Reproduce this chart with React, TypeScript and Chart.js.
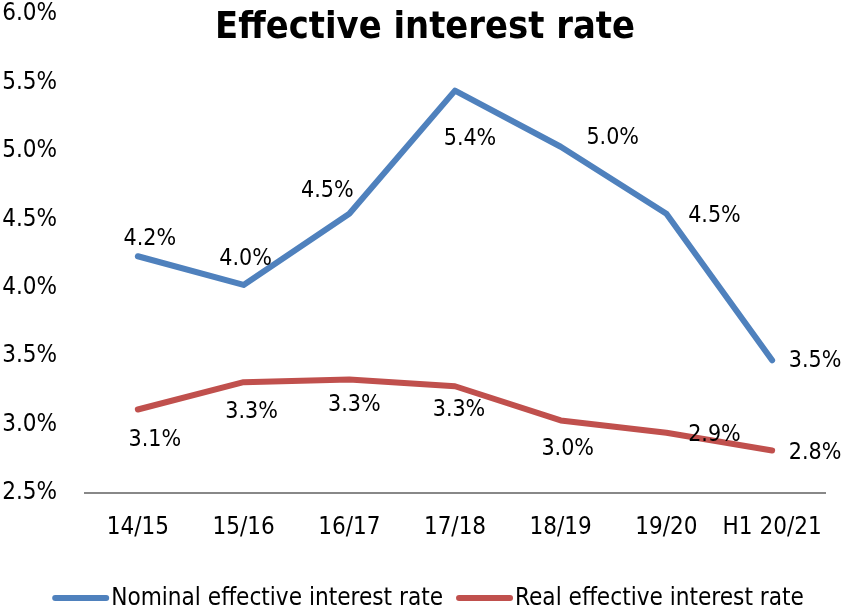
import React, { useEffect, useRef } from "react";
import { Chart, registerables } from "chart.js";

Chart.register(...registerables);

// ---- data ----
const categories = ["14/15", "15/16", "16/17", "17/18", "18/19", "19/20", "H1 20/21"];
const nominalRate = [4.23, 4.02, 4.54, 5.44, 5.03, 4.54, 3.47];
const realRate = [3.11, 3.31, 3.33, 3.28, 3.03, 2.94, 2.81];
const seriesNames = ["Nominal effective interest rate", "Real effective interest rate"];
const yMin = 2.5;
const yMax = 6.0;
const yStep = 0.5;
const titleText = "Effective interest rate";

// ---- style ----
const FONT = "'DejaVu Sans Condensed', 'Liberation Sans', sans-serif";
const COLORS = ["#4F81BD", "#C0504D"];
// data-label offsets (px) from each point, per series
const labelOffsets = [
  [[12, -17], [2, -26], [-22, -23], [15, 48], [52, -9], [48, 2], [43, 1]],
  [[17, 31], [8, 30], [5, 26], [4, 24], [7, 29], [48, 2], [43, 2]],
];

function fitFont(ctx: any, text: string, weight: string, targetWidth: number) {
  ctx.font = `${weight} 100px ${FONT}`;
  const w = ctx.measureText(text).width;
  const size = (100 * targetWidth) / w;
  ctx.font = `${weight} ${size.toFixed(2)}px ${FONT}`;
  return size;
}

const dataLabelPlugin = {
  id: "dataLabels",
  afterDatasetsDraw(chart: any) {
    const ctx = chart.ctx;
    ctx.save();
    ctx.font = `23px ${FONT}`;
    ctx.fillStyle = "#000";
    ctx.textAlign = "center";
    ctx.textBaseline = "middle";
    chart.data.datasets.forEach((ds: any, di: number) => {
      const meta = chart.getDatasetMeta(di);
      meta.data.forEach((el: any, i: number) => {
        const off = labelOffsets[di][i];
        ctx.fillText(Number(ds.data[i]).toFixed(1) + "%", el.x + off[0], el.y + off[1]);
      });
    });
    ctx.restore();
  },
};

const titleLegendPlugin = {
  id: "titleLegend",
  afterDraw(chart: any) {
    const ctx = chart.ctx;
    ctx.save();
    // title
    fitFont(ctx, titleText, "bold", 420);
    ctx.fillStyle = "#000";
    ctx.textAlign = "center";
    ctx.textBaseline = "middle";
    ctx.fillText(titleText, 425, 28);

    // legend
    fitFont(ctx, seriesNames[0], "normal", 332);
    const lineLen = 57;
    const textGap = 2;
    const itemGap = 13;
    const widths = chart.data.datasets.map((ds: any) => lineLen + textGap + ctx.measureText(ds.label).width);
    const total = widths.reduce((a: number, b: number) => a + b, 0) + itemGap * (widths.length - 1);
    let x = 428 - total / 2;
    const y = 598;
    ctx.textAlign = "left";
    chart.data.datasets.forEach((ds: any, i: number) => {
      ctx.strokeStyle = ds.borderColor;
      ctx.lineWidth = 6;
      ctx.lineCap = "round";
      ctx.beginPath();
      ctx.moveTo(x + 3, y);
      ctx.lineTo(x + lineLen - 3, y);
      ctx.stroke();
      ctx.fillStyle = "#000";
      ctx.fillText(ds.label, x + lineLen + textGap, y + 1);
      x += widths[i] + itemGap;
    });
    ctx.restore();
  },
};

export default function App() {
  const canvasRef = useRef<HTMLCanvasElement | null>(null);

  useEffect(() => {
    const canvas = canvasRef.current;
    if (!canvas) return;
    const chart = new Chart(canvas, {
      type: "line",
      data: {
        labels: categories,
        datasets: [
          {
            label: seriesNames[0],
            data: nominalRate,
            borderColor: COLORS[0],
            backgroundColor: COLORS[0],
            borderWidth: 6,
            pointRadius: 0,
            pointHoverRadius: 0,
            tension: 0,
            borderJoinStyle: "round",
            borderCapStyle: "round",
          },
          {
            label: seriesNames[1],
            data: realRate,
            borderColor: COLORS[1],
            backgroundColor: COLORS[1],
            borderWidth: 6,
            pointRadius: 0,
            pointHoverRadius: 0,
            tension: 0,
            borderJoinStyle: "round",
            borderCapStyle: "round",
          },
        ],
      },
      options: {
        responsive: false,
        animation: false,
        layout: { padding: { left: 0, right: 18, top: 14, bottom: 0 } },
        plugins: {
          legend: { display: false },
          title: { display: false },
          tooltip: { enabled: false },
        },
        scales: {
          x: {
            type: "category",
            offset: true,
            grid: { display: false, drawTicks: false },
            border: { display: true, color: "#888888", width: 2 },
            ticks: {
              padding: 20,
              color: "#000",
              font: { family: FONT, size: 24 },
              maxRotation: 0,
              autoSkip: false,
            },
            afterFit(scale: any) {
              scale.height = 118;
            },
          },
          y: {
            min: yMin,
            max: yMax,
            grid: { display: false, drawTicks: true, tickLength: 28, color: "rgba(0,0,0,0)" },
            border: { display: false },
            ticks: {
              stepSize: yStep,
              padding: 0,
              color: "#000",
              font: { family: FONT, size: 24, lineHeight: 1 },
              callback: (v: any) => Number(v).toFixed(1) + "%",
            },
            afterFit(scale: any) {
              scale.width = 85;
            },
          },
        },
      },
      plugins: [dataLabelPlugin, titleLegendPlugin],
    });
    return () => chart.destroy();
  }, []);

  return (
    <div style={{ position: "fixed", left: 0, top: 0, width: 843, height: 611, background: "#fff" }}>
      <canvas ref={canvasRef} width={843} height={611} style={{ width: 843, height: 611 }} />
    </div>
  );
}
